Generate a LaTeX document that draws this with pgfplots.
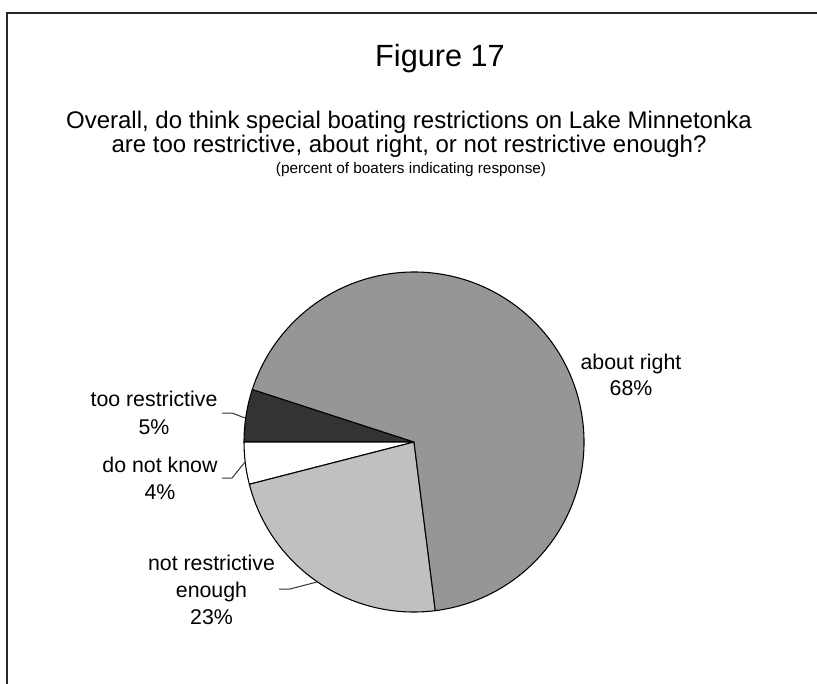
\documentclass[border=0pt]{standalone}
\usepackage{pgfplots}
\pgfplotsset{compat=1.18}
\usepackage{pgfplotstable}
\usepackage{fontspec}
\setmainfont{Liberation Sans}

\definecolor{tooRestr}{HTML}{333333}
\definecolor{notEnough}{HTML}{C0C0C0}
\definecolor{aboutRight}{HTML}{969696}

% share of boaters, counter-clockwise from 162 degrees
\pgfplotstableread{
pct colour
5   tooRestr
4   white
23  notEnough
68  aboutRight
}\piedata

\begin{document}
\begin{tikzpicture}
\begin{axis}[hide axis, scale only axis, clip=false,
  width=612.75pt, height=512.25pt,
  xmin=0, xmax=817, ymin=0, ymax=683]

\def\startang{162}
\pgfplotsforeachungrouped \i in {0,...,3}{%
  \pgfplotstablegetelem{\i}{pct}\of\piedata \let\p=\pgfplotsretval
  \pgfplotstablegetelem{\i}{colour}\of\piedata \let\c=\pgfplotsretval
  \pgfmathsetmacro\endang{\startang+3.6*\p}
  \edef\slice{\noexpand\filldraw[fill=\c, draw=black, line width=0.8pt, line join=round]
    (axis cs:414,241) -- ++(\startang:127.5pt)
    arc[start angle=\startang, end angle=\endang, radius=127.5pt] -- cycle;}
  \slice
  \let\startang=\endang
}

% frame
\draw[line width=1.5pt, black!85] (axis cs:7,-10) -- (axis cs:7,670) -- (axis cs:830,670);

% titles
\node[anchor=base, font=\fontsize{23}{27}\selectfont] at (axis cs:440,616) {Figure 17};
\node[anchor=base, font=\fontsize{18}{22}\selectfont] at (axis cs:409,554) {Overall, do think special boating restrictions on Lake Minnetonka};
\node[anchor=base, font=\fontsize{18}{22}\selectfont] at (axis cs:409,530) {are too restrictive, about right, or not restrictive enough?};
\node[anchor=base, font=\fontsize{11.5}{14}\selectfont] at (axis cs:411,509) {(percent of boaters indicating response)};

% slice labels
\tikzset{lab/.style={anchor=base, inner sep=0pt, font=\fontsize{16}{19}\selectfont}}
\node[lab] at (axis cs:631,314) {about right};
\node[lab] at (axis cs:631,288) {68\%};
\node[lab] at (axis cs:154,277) {too restrictive};
\node[lab] at (axis cs:154,249) {5\%};
\node[lab] at (axis cs:160,211) {do not know};
\node[lab] at (axis cs:160,184) {4\%};
\node[lab] at (axis cs:211.5,113) {not restrictive};
\node[lab] at (axis cs:211.5,86) {enough};
\node[lab] at (axis cs:211.5,59) {23\%};

% leader lines
\draw[black!80, line width=0.75pt] (axis cs:222,270) -- (axis cs:232,270) -- (axis cs:245,265);
\draw[black!80, line width=0.75pt] (axis cs:222,205) -- (axis cs:232,205) -- (axis cs:245,221);
\draw[black!80, line width=0.75pt] (axis cs:279,94) -- (axis cs:290,94) -- (axis cs:317,101);
\end{axis}
\pgfresetboundingbox
\path (0,0) rectangle (612.75pt,512.25pt);
\end{tikzpicture}
\end{document}
